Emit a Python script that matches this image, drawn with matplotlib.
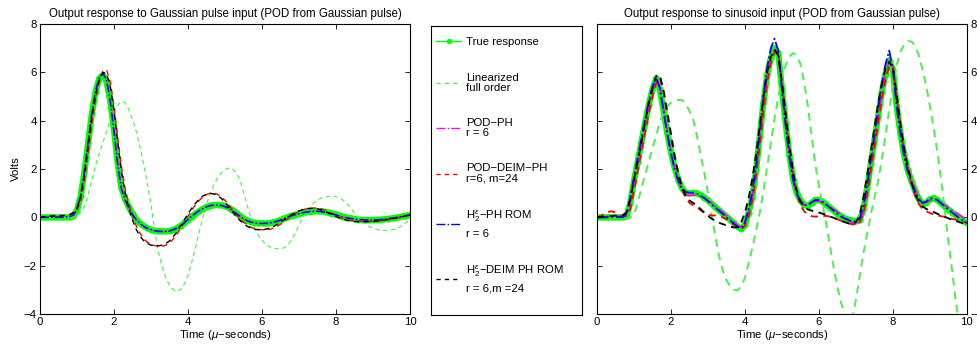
import numpy as np
import matplotlib
matplotlib.use('Agg')
import matplotlib.pyplot as plt
from matplotlib.lines import Line2D

plt.rcParams['font.family'] = ['Liberation Sans', 'DejaVu Sans']
plt.rcParams['mathtext.fontset'] = 'custom'
plt.rcParams['mathtext.rm'] = 'Liberation Sans'
plt.rcParams['mathtext.it'] = 'Liberation Sans:italic'
plt.rcParams['mathtext.bf'] = 'Liberation Sans:bold'

# time grid (micro-seconds)
t = np.linspace(0, 10, 101)

# ---------------- Left panel: Gaussian pulse input ----------------
lt_true = [0, 0, 0, 0, 0, 0, 0, 0, 0, 0.05,
           0.3, 0.9, 1.9, 3.1, 4.3, 5.2, 5.75, 5.9, 5.6, 4.8,
           3.6, 2.2, 1.2, 0.75, 0.42, 0.15, -0.08, -0.24, -0.36, -0.45,
           -0.51, -0.55, -0.57, -0.58, -0.58, -0.56, -0.52, -0.45, -0.35, -0.23,
           -0.1, 0.03, 0.15, 0.26, 0.35, 0.43, 0.48, 0.51, 0.52, 0.51,
           0.47, 0.4, 0.3, 0.19, 0.07, -0.05, -0.13, -0.19, -0.22, -0.24,
           -0.25, -0.25, -0.24, -0.21, -0.17, -0.11, -0.04, 0.02, 0.07, 0.11,
           0.15, 0.19, 0.22, 0.24, 0.25, 0.26, 0.25, 0.23, 0.2, 0.16,
           0.12, 0.07, 0.03, -0.01, -0.04, -0.07, -0.09, -0.1, -0.11, -0.11,
           -0.11, -0.1, -0.09, -0.08, -0.06, -0.04, -0.02, 0.01, 0.04, 0.07,
           0.1]
lt_lin = [0, 0, 0, 0, 0, 0, 0, 0, 0, 0,
          0.05, 0.2, 0.45, 0.95, 1.55, 2.15, 2.65, 3.1, 3.6, 4.05,
          4.4, 4.65, 4.8, 4.75, 4.45, 4.05, 3.55, 2.9, 2.2, 1.4,
          0.5, -0.55, -1.45, -2.05, -2.5, -2.82, -3.0, -3.06, -2.98, -2.75,
          -2.4, -1.85, -1.25, -0.6, 0.0, 0.55, 0.98, 1.35, 1.65, 1.85,
          1.98, 2.04, 2.0, 1.85, 1.55, 1.05, 0.5, -0.05, -0.45, -0.75,
          -0.95, -1.12, -1.22, -1.28, -1.3, -1.3, -1.26, -1.13, -0.92, -0.65,
          -0.3, -0.03, 0.22, 0.43, 0.6, 0.73, 0.8, 0.85, 0.87, 0.88,
          0.86, 0.8, 0.7, 0.55, 0.37, 0.18, 0.0, -0.15, -0.28, -0.38,
          -0.45, -0.5, -0.53, -0.54, -0.54, -0.52, -0.48, -0.41, -0.32, -0.21,
          -0.1]
lt_pod = [0, 0, 0.01, 0.02, 0.02, 0.02, 0.02, 0.02, 0.03, 0.08,
          0.3, 0.85, 1.8, 3.0, 4.2, 5.1, 5.7, 5.95, 5.7, 4.9,
          3.7, 2.3, 1.25, 0.75, 0.4, 0.12, -0.1, -0.26, -0.38, -0.47,
          -0.53, -0.57, -0.59, -0.6, -0.59, -0.57, -0.52, -0.45, -0.35, -0.23,
          -0.09, 0.04, 0.16, 0.27, 0.36, 0.43, 0.48, 0.5, 0.51, 0.5,
          0.46, 0.39, 0.29, 0.18, 0.06, -0.05, -0.13, -0.19, -0.23, -0.25,
          -0.26, -0.26, -0.25, -0.22, -0.18, -0.12, -0.06, 0.01, 0.07, 0.12,
          0.16, 0.2, 0.23, 0.25, 0.26, 0.26, 0.25, 0.22, 0.19, 0.15,
          0.1, 0.06, 0.02, -0.02, -0.05, -0.08, -0.1, -0.11, -0.12, -0.12,
          -0.12, -0.11, -0.1, -0.08, -0.06, -0.04, -0.01, 0.02, 0.05, 0.08,
          0.1]
lt_deim = [0, 0.02, 0.05, 0.07, 0.08, 0.08, 0.08, 0.08, 0.1, 0.15,
           0.3, 0.7, 1.5, 2.7, 3.9, 4.9, 5.6, 6.05, 6.1, 5.6,
           4.6, 3.3, 2.1, 1.2, 0.55, 0.05, -0.35, -0.65, -0.88, -1.03,
           -1.12, -1.17, -1.2, -1.2, -1.15, -1.05, -0.9, -0.7, -0.45, -0.2,
           0.05, 0.3, 0.52, 0.7, 0.85, 0.95, 1.0, 1.0, 0.95, 0.85,
           0.7, 0.52, 0.32, 0.12, -0.05, -0.2, -0.32, -0.41, -0.47, -0.5,
           -0.51, -0.51, -0.5, -0.45, -0.38, -0.28, -0.17, -0.05, 0.07, 0.17,
           0.25, 0.31, 0.36, 0.38, 0.39, 0.38, 0.35, 0.3, 0.23, 0.15,
           0.07, 0.0, -0.06, -0.1, -0.13, -0.15, -0.16, -0.17, -0.17, -0.17,
           -0.16, -0.15, -0.14, -0.12, -0.1, -0.07, -0.04, -0.01, 0.03, 0.06,
           0.1]
lt_h2 = [0, 0, 0, 0.01, 0.01, 0.01, 0.01, 0.02, 0.03, 0.1,
         0.35, 0.95, 1.95, 3.15, 4.35, 5.25, 5.8, 5.98, 5.65, 4.75,
         3.5, 2.15, 1.15, 0.7, 0.38, 0.12, -0.1, -0.25, -0.37, -0.45,
         -0.51, -0.55, -0.57, -0.58, -0.58, -0.56, -0.51, -0.44, -0.34, -0.22,
         -0.08, 0.05, 0.17, 0.28, 0.37, 0.44, 0.49, 0.51, 0.51, 0.49,
         0.44, 0.37, 0.27, 0.16, 0.05, -0.06, -0.14, -0.2, -0.23, -0.25,
         -0.25, -0.24, -0.23, -0.2, -0.16, -0.11, -0.05, 0.02, 0.07, 0.11,
         0.15, 0.19, 0.22, 0.24, 0.25, 0.25, 0.24, 0.21, 0.18, 0.14,
         0.1, 0.05, 0.01, -0.02, -0.05, -0.07, -0.09, -0.1, -0.11, -0.11,
         -0.11, -0.1, -0.09, -0.07, -0.05, -0.03, -0.01, 0.02, 0.05, 0.08,
         0.1]
lt_h2deim = [0, 0.02, 0.04, 0.05, 0.06, 0.06, 0.07, 0.08, 0.12, 0.2,
             0.4, 0.9, 1.8, 3.0, 4.2, 5.1, 5.7, 6.0, 5.95, 5.4,
             4.4, 3.1, 1.9, 1.0, 0.35, -0.12, -0.5, -0.78, -0.96, -1.08,
             -1.15, -1.18, -1.18, -1.15, -1.08, -0.97, -0.8, -0.6, -0.35, -0.1,
             0.15, 0.38, 0.58, 0.75, 0.88, 0.96, 0.99, 0.97, 0.9, 0.78,
             0.62, 0.43, 0.23, 0.04, -0.12, -0.26, -0.37, -0.45, -0.49, -0.51,
             -0.51, -0.49, -0.45, -0.39, -0.3, -0.2, -0.09, 0.02, 0.12, 0.2,
             0.27, 0.32, 0.36, 0.37, 0.37, 0.35, 0.31, 0.25, 0.18, 0.1,
             0.03, -0.03, -0.08, -0.12, -0.15, -0.17, -0.18, -0.18, -0.18, -0.17,
             -0.16, -0.15, -0.13, -0.11, -0.09, -0.06, -0.03, 0.0, 0.03, 0.06,
             0.09]

# ---------------- Right panel: sinusoid input ----------------
rt_true = [0, 0, 0, 0, 0, 0, 0, 0, 0.05, 0.6,
           1.5, 2.3, 3.1, 3.9, 4.65, 5.3, 5.75, 5.3, 4.4, 3.5,
           2.7, 2.05, 1.55, 1.2, 1.02, 1.0, 1.02, 1.0, 0.93, 0.82,
           0.7, 0.56, 0.42, 0.29, 0.16, 0.03, -0.1, -0.24, -0.38, -0.48,
           -0.3, 0.2, 0.85, 1.95, 3.35, 4.75, 5.9, 6.6, 7.0, 6.8,
           5.3, 3.9, 2.6, 1.6, 1.0, 0.7, 0.52, 0.47, 0.6, 0.72,
           0.72, 0.65, 0.53, 0.4, 0.28, 0.15, 0.04, -0.04, -0.1, -0.13,
           -0.15, -0.1, 0.3, 1.2, 2.2, 3.2, 4.2, 5.2, 5.95, 6.5,
           6.1, 4.6, 3.5, 2.6, 1.95, 1.5, 1.1, 0.75, 0.55, 0.6,
           0.75, 0.8, 0.72, 0.58, 0.45, 0.32, 0.2, 0.08, -0.04, -0.14,
           -0.23]
rt_lin = [0, 0, 0, 0, 0, 0, 0, 0, 0, 0,
          0.1, 0.6, 1.2, 1.75, 2.3, 2.85, 3.4, 3.95, 4.35, 4.6,
          4.75, 4.83, 4.86, 4.86, 4.7, 4.4, 4.05, 3.4, 2.6, 1.85,
          1.0, 0.1, -0.8, -1.6, -2.2, -2.6, -2.85, -3.0, -3.02, -2.85,
          -2.5, -1.9, -1.25, -0.55, 0.2, 1.1, 2.1, 3.1, 4.1, 5.0,
          5.75, 6.3, 6.65, 6.8, 6.7, 6.35, 5.6, 4.6, 3.4, 2.2,
          1.3, 0.5, -0.3, -1.2, -2.1, -2.9, -3.55, -4.05, -4.35, -4.2,
          -3.4, -2.45, -1.5, -0.7, 0.1, 0.8, 1.5, 2.4, 3.4, 4.5,
          5.5, 6.3, 6.85, 7.15, 7.3, 7.28, 7.1, 6.7, 6.1, 5.45,
          4.6, 3.7, 2.7, 1.6, 0.3, -1.0, -2.2, -3.5, -4.5, -5.2,
          -5.8]
rt_pod = [0, 0, 0.02, 0.04, 0.05, 0.05, 0.04, 0.03, 0.1, 0.6,
          1.45, 2.25, 3.05, 3.85, 4.6, 5.25, 5.7, 5.4, 4.5, 3.55,
          2.7, 2.0, 1.5, 1.15, 0.95, 0.9, 0.92, 0.92, 0.88, 0.8,
          0.7, 0.58, 0.45, 0.32, 0.2, 0.07, -0.06, -0.2, -0.33, -0.42,
          -0.3, 0.15, 0.85, 1.95, 3.3, 4.7, 5.9, 6.65, 6.95, 6.7,
          5.3, 3.9, 2.6, 1.6, 1.0, 0.68, 0.52, 0.5, 0.6, 0.68,
          0.68, 0.62, 0.52, 0.42, 0.32, 0.22, 0.12, 0.02, -0.1, -0.22,
          -0.3, -0.2, 0.2, 1.1, 2.1, 3.1, 4.1, 5.1, 5.9, 6.45,
          6.15, 4.8, 3.7, 2.8, 2.1, 1.6, 1.15, 0.8, 0.6, 0.62,
          0.72, 0.75, 0.7, 0.6, 0.5, 0.4, 0.3, 0.2, 0.1, 0.0,
          -0.1]
rt_deim = [0, 0.05, 0.15, 0.23, 0.25, 0.2, 0.1, 0.03, 0.05, 0.35,
           1.1, 1.9, 2.7, 3.5, 4.3, 5.0, 5.55, 5.8, 5.3, 4.4,
           3.5, 2.6, 1.8, 1.15, 0.8, 0.6, 0.5, 0.42, 0.3, 0.18,
           0.1, 0.08, 0.08, 0.05, 0.0, -0.08, -0.18, -0.3, -0.42, -0.5,
           -0.35, 0.05, 0.7, 1.7, 3.0, 4.4, 5.6, 6.4, 6.85, 6.8,
           5.6, 4.2, 2.9, 1.8, 1.0, 0.5, 0.25, 0.12, 0.05, 0.03,
           0.04, 0.06, 0.06, 0.03, -0.02, -0.08, -0.14, -0.2, -0.25, -0.29,
           -0.3, -0.2, 0.15, 0.9, 1.9, 2.9, 3.9, 4.9, 5.7, 6.25,
           6.3, 5.0, 3.8, 2.8, 2.0, 1.4, 0.9, 0.55, 0.35, 0.25,
           0.18, 0.12, 0.08, 0.05, 0.02, -0.02, -0.06, -0.1, -0.14, -0.18,
           -0.22]
rt_h2 = [0, 0, 0, 0.01, 0.01, 0.01, 0.01, 0.02, 0.15, 0.8,
         1.65, 2.45, 3.25, 4.05, 4.8, 5.4, 5.8, 5.35, 4.4, 3.45,
         2.65, 2.0, 1.5, 1.2, 1.05, 1.02, 1.02, 0.98, 0.9, 0.8,
         0.68, 0.54, 0.4, 0.27, 0.14, 0.01, -0.12, -0.26, -0.38, -0.45,
         -0.2, 0.35, 1.05, 2.2, 3.6, 5.0, 6.2, 7.0, 7.4, 6.9,
         5.3, 3.8, 2.5, 1.55, 0.98, 0.68, 0.52, 0.5, 0.62, 0.72,
         0.72, 0.64, 0.52, 0.4, 0.27, 0.14, 0.03, -0.05, -0.12, -0.16,
         -0.17, -0.05, 0.45, 1.35, 2.4, 3.45, 4.5, 5.5, 6.35, 6.9,
         6.1, 4.6, 3.45, 2.55, 1.9, 1.45, 1.05, 0.75, 0.6, 0.65,
         0.78, 0.8, 0.72, 0.58, 0.45, 0.32, 0.2, 0.08, -0.04, -0.14,
         -0.23]
rt_h2deim = [0, 0.01, 0.03, 0.05, 0.06, 0.07, 0.07, 0.1, 0.2, 0.75,
             1.55, 2.3, 3.1, 3.95, 4.7, 5.35, 5.85, 5.9, 5.2, 4.3,
             3.4, 2.5, 1.8, 1.25, 0.9, 0.7, 0.6, 0.5, 0.35, 0.2,
             0.05, -0.05, -0.15, -0.22, -0.28, -0.33, -0.38, -0.42, -0.4, -0.2,
             0.2, 0.8, 1.6, 2.6, 3.8, 5.0, 6.0, 6.65, 6.95, 6.7,
             5.6, 4.3, 3.0, 1.9, 1.1, 0.65, 0.42, 0.33, 0.28, 0.24,
             0.2, 0.15, 0.1, 0.04, -0.02, -0.08, -0.14, -0.2, -0.25, -0.27,
             -0.2, 0.1, 0.8, 1.7, 2.7, 3.7, 4.7, 5.55, 6.15, 6.45,
             6.2, 5.1, 3.9, 2.9, 2.1, 1.45, 0.95, 0.65, 0.45, 0.35,
             0.28, 0.22, 0.15, 0.08, 0.02, -0.04, -0.1, -0.15, -0.2, -0.25,
             -0.3]

titles = ['Output response to Gaussian pulse input (POD from Gaussian pulse)',
          'Output response to sinusoid input (POD from Gaussian pulse)']
legend_labels = ['True response',
                 'Linearized\nfull order',
                 'POD\u2212PH\nr = 6',
                 'POD\u2212DEIM\u2212PH\nr=6, m=24',
                 'H$_2^{\\varepsilon}$\u2212PH ROM\nr = 6',
                 'H$_2^{\\varepsilon}$\u2212DEIM PH ROM\nr = 6,m =24']
xticks = [0, 2, 4, 6, 8, 10]
yticks = [-4, -2, 0, 2, 4, 6, 8]

C_TRUE = '#00ff00'
C_LIN = '#4cf04c'

fig = plt.figure(figsize=(9.77, 3.48), dpi=100)
axL = fig.add_axes([0.041, 0.0977, 0.3787, 0.833])
axR = fig.add_axes([0.611, 0.0977, 0.3787, 0.833])
axG = fig.add_axes([0.4411, 0.0948, 0.1546, 0.8305])


def draw(ax, true, lin, pod, deim, h2, h2deim, lw, lwl):
    ax.plot(t, true, '-', color=C_TRUE, lw=4.5, marker='o', ms=4.4,
            mew=0, solid_joinstyle='round', zorder=2)
    ax.plot(t, lin, '--', color=C_LIN, lw=lwl, dashes=(4, 3), zorder=3)
    ax.plot(t, pod, '-.', color='#ff00ff', lw=lw, zorder=4)
    ax.plot(t, deim, '--', color='#ff0000', lw=lw, dashes=(4, 3), zorder=5)
    ax.plot(t, h2, '-.', color='#0000ff', lw=lw, zorder=6)
    ax.plot(t, h2deim, '--', color='black', lw=lw, dashes=(4, 3), zorder=7)
    ax.set_xlim(0, 10)
    ax.set_ylim(-4, 8)
    ax.set_xticks(xticks)
    ax.set_yticks(yticks)
    ax.tick_params(direction='in', top=True, right=True, left=True, bottom=True,
                   length=3.5, width=0.6, labelsize=8.2, pad=2.5)
    for s in ax.spines.values():
        s.set_linewidth(0.8)
    ax.set_xlabel('Time ($\\mu$\u2212seconds)', fontsize=8.2, labelpad=0.5)


draw(axL, lt_true, lt_lin, lt_pod, lt_deim, lt_h2, lt_h2deim, 1.0, 0.8)
draw(axR, rt_true, rt_lin, rt_pod, rt_deim, rt_h2, rt_h2deim, 1.3, 1.4)
axL.set_title(titles[0], fontsize=8.3, pad=5)
axR.set_title(titles[1], fontsize=8.3, pad=5)
axL.set_ylabel('Volts', fontsize=8.2, labelpad=2)
axR.tick_params(labelleft=False, labelright=True)

# legend panel
axG.set_xticks([])
axG.set_yticks([])
for s in axG.spines.values():
    s.set_linewidth(0.8)
handles = [Line2D([], [], color=C_TRUE, lw=1, marker='o', ms=3),
           Line2D([], [], color=C_LIN, lw=1, ls='--', dashes=(3, 3)),
           Line2D([], [], color='#ff00ff', lw=1, ls='-.'),
           Line2D([], [], color='#ff0000', lw=1, ls='--', dashes=(3, 3)),
           Line2D([], [], color='#0000ff', lw=1, ls='-.'),
           Line2D([], [], color='black', lw=1, ls='--', dashes=(3, 3))]
leg = axG.legend(handles, legend_labels, loc='upper left', bbox_to_anchor=(0, 0.978),
                 frameon=False, fontsize=8.2, handlelength=2.2, handletextpad=0.45,
                 labelspacing=2.2, borderaxespad=0, borderpad=0.45)
for i, txt in enumerate(leg.get_texts()):
    txt.set_linespacing(1.55 if i >= 4 else 1.05)

fig.savefig('out.png', dpi=100)
